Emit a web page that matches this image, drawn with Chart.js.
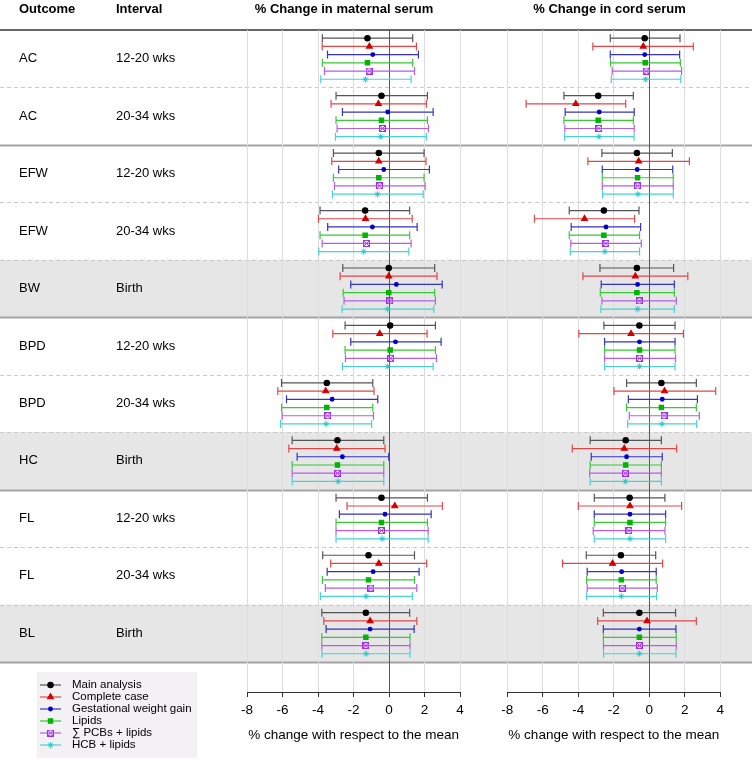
<!DOCTYPE html>
<html>
<head>
<meta charset="utf-8">
<script src="https://cdn.jsdelivr.net/npm/chart.js@4.4.1/dist/chart.umd.min.js"></script>
<style>
  html, body { margin: 0; padding: 0; background: #fff; }
  #wrap { position: relative; width: 752px; height: 761px; overflow: hidden; }
  #wrap canvas { position: absolute; top: 0; }
</style>
</head>
<body>
<div id="wrap">
  <canvas id="maternalChart" width="500" height="761" style="left:0"></canvas>
  <canvas id="cordChart" width="260" height="761" style="left:492px"></canvas>
</div>
<script>
const outcomes = ['AC', 'AC', 'EFW', 'EFW', 'BW', 'BPD', 'BPD', 'HC', 'FL', 'FL', 'BL'];
const intervals = ['12-20 wks', '20-34 wks', '12-20 wks', '20-34 wks', 'Birth', '12-20 wks', '20-34 wks', 'Birth', '12-20 wks', '20-34 wks', 'Birth'];
const shadedRows = [4, 7, 10];
const solidBreaks = [2, 5, 8, 11];
const xTicks = [-8, -6, -4, -2, 0, 2, 4];
const seriesNames = ['Main analysis', 'Complete case', 'Gestational weight gain', 'Lipids', '\u2211 PCBs + lipids', 'HCB + lipids'];

// [lower, estimate, upper] for each row, maternal serum
const maternalMain = [[-3.76, -1.22, 1.33], [-2.99, -0.43, 2.16], [-3.14, -0.58, 1.97], [-3.89, -1.35, 1.16], [-2.61, -0.02, 2.57], [-2.48, 0.06, 2.61], [-6.06, -3.51, -0.92], [-5.46, -2.91, -0.30], [-2.99, -0.43, 2.16], [-3.74, -1.16, 1.43], [-3.79, -1.31, 1.16]];
const maternalComplete = [[-3.77, -1.11, 1.54], [-3.27, -0.60, 2.10], [-3.23, -0.58, 2.08], [-3.98, -1.33, 1.30], [-2.76, -0.02, 2.70], [-3.17, -0.53, 2.14], [-6.27, -3.57, -0.85], [-5.65, -2.95, -0.23], [-2.37, 0.32, 3.00], [-3.29, -0.58, 2.12], [-3.68, -1.07, 1.56]];
const maternalGwg = [[-3.47, -0.92, 1.65], [-2.63, -0.08, 2.48], [-2.84, -0.30, 2.27], [-3.46, -0.94, 1.58], [-2.16, 0.41, 2.99], [-2.16, 0.36, 2.93], [-5.78, -3.21, -0.64], [-5.18, -2.63, -0.02], [-2.80, -0.23, 2.37], [-3.49, -0.90, 1.69], [-3.55, -1.07, 1.41]];
const maternalLipids = [[-3.76, -1.22, 1.33], [-2.99, -0.43, 2.16], [-3.14, -0.58, 1.97], [-3.89, -1.35, 1.16], [-2.59, -0.02, 2.57], [-2.48, 0.06, 2.61], [-6.06, -3.51, -0.92], [-5.46, -2.91, -0.30], [-2.99, -0.43, 2.16], [-3.76, -1.16, 1.43], [-3.79, -1.31, 1.18]];
const maternalPcbs = [[-3.64, -1.13, 1.43], [-2.93, -0.38, 2.22], [-3.08, -0.54, 2.03], [-3.77, -1.28, 1.24], [-2.54, 0.04, 2.61], [-2.46, 0.09, 2.67], [-6.03, -3.46, -0.88], [-5.46, -2.91, -0.30], [-2.99, -0.43, 2.20], [-3.59, -1.03, 1.56], [-3.79, -1.31, 1.18]];
const maternalHcb = [[-3.85, -1.33, 1.24], [-3.02, -0.47, 2.10], [-3.19, -0.66, 1.92], [-3.96, -1.43, 1.11], [-2.65, -0.08, 2.52], [-2.63, -0.08, 2.48], [-6.12, -3.55, -0.98], [-5.46, -2.87, -0.30], [-2.99, -0.39, 2.20], [-3.87, -1.30, 1.31], [-3.78, -1.30, 1.18]];

// [lower, estimate, upper] for each row, cord serum
const cordMain = [[-2.20, -0.26, 1.73], [-4.81, -2.88, -0.90], [-2.67, -0.70, 1.30], [-4.51, -2.56, -0.58], [-2.78, -0.70, 1.37], [-2.56, -0.56, 1.45], [-1.28, 0.68, 2.65], [-3.33, -1.33, 0.68], [-3.10, -1.11, 0.88], [-3.55, -1.60, 0.36], [-2.59, -0.56, 1.48]];
const cordComplete = [[-3.18, -0.34, 2.48], [-6.94, -4.14, -1.33], [-3.46, -0.60, 2.26], [-6.47, -3.65, -0.83], [-3.74, -0.79, 2.17], [-3.97, -1.03, 1.92], [-1.99, 0.86, 3.74], [-4.34, -1.41, 1.54], [-4.00, -1.09, 1.82], [-4.89, -2.07, 0.75], [-2.91, -0.13, 2.65]];
const cordGwg = [[-2.20, -0.26, 1.71], [-4.74, -2.82, -0.85], [-2.65, -0.68, 1.32], [-4.40, -2.44, -0.49], [-2.71, -0.66, 1.41], [-2.52, -0.55, 1.45], [-1.18, 0.73, 2.71], [-3.27, -1.28, 0.73], [-3.10, -1.09, 0.92], [-3.50, -1.56, 0.39], [-2.59, -0.56, 1.50]];
const cordLipids = [[-2.18, -0.23, 1.75], [-4.81, -2.88, -0.90], [-2.65, -0.66, 1.35], [-4.51, -2.56, -0.55], [-2.76, -0.70, 1.41], [-2.52, -0.55, 1.45], [-1.28, 0.68, 2.65], [-3.33, -1.33, 0.68], [-3.10, -1.09, 0.92], [-3.53, -1.58, 0.39], [-2.59, -0.56, 1.52]];
const cordPcbs = [[-2.09, -0.17, 1.82], [-4.76, -2.84, -0.85], [-2.65, -0.66, 1.35], [-4.42, -2.44, -0.45], [-2.67, -0.56, 1.52], [-2.52, -0.55, 1.48], [-1.13, 0.83, 2.82], [-3.36, -1.35, 0.68], [-3.16, -1.15, 0.88], [-3.50, -1.52, 0.45], [-2.58, -0.55, 1.52]];
const cordHcb = [[-2.14, -0.21, 1.77], [-4.77, -2.84, -0.86], [-2.63, -0.64, 1.35], [-4.45, -2.50, -0.55], [-2.73, -0.66, 1.41], [-2.52, -0.55, 1.45], [-1.22, 0.71, 2.67], [-3.33, -1.35, 0.68], [-3.10, -1.09, 0.92], [-3.53, -1.58, 0.41], [-2.58, -0.56, 1.50]];

const FONT = '"Liberation Sans", Arial, Helvetica, sans-serif';
Chart.defaults.font.family = FONT;
Chart.defaults.color = '#000';

// square with a cross for the PCB series
function boxCross(color, size) {
  const c = document.createElement('canvas');
  c.width = size; c.height = size;
  const g = c.getContext('2d');
  g.strokeStyle = color; g.lineWidth = 1;
  g.strokeRect(0.5, 0.5, size - 1, size - 1);
  g.beginPath();
  g.moveTo(0.5, 0.5); g.lineTo(size - 0.5, size - 0.5);
  g.moveTo(size - 0.5, 0.5); g.lineTo(0.5, size - 0.5);
  g.stroke();
  return c;
}

// asterisk (+ and x) for the HCB series
function asterisk(color, size) {
  const c = document.createElement('canvas');
  c.width = size; c.height = size;
  const g = c.getContext('2d');
  const m = size / 2, d = m - 0.5, e = d * 0.75;
  g.strokeStyle = color; g.lineWidth = 1;
  g.beginPath();
  g.moveTo(m, m - d); g.lineTo(m, m + d);
  g.moveTo(m - d, m); g.lineTo(m + d, m);
  g.moveTo(m - e, m - e); g.lineTo(m + e, m + e);
  g.moveTo(m + e, m - e); g.lineTo(m - e, m + e);
  g.stroke();
  return c;
}

const looks = [
  { bar: '#555555', dot: '#000000', style: 'circle', r: 2.7 },
  { bar: '#e04848', dot: '#d40000', style: 'triangle', r: 3.4 },
  { bar: '#3434c0', dot: '#0000cc', style: 'circle', r: 1.9 },
  { bar: '#38c838', dot: '#00b400', style: 'rect', r: 3.1 },
  { bar: '#b45ee6', dot: '#a030e8', style: boxCross('#a030e8', 7), r: 3 },
  { bar: '#48d2d2', dot: '#30c8c8', style: asterisk('#30c8c8', 7), r: 3 },
];

function buildDatasets(series) {
  const sets = [];
  series.forEach((rows, s) => {
    const lk = looks[s];
    const bars = [];
    const pts = [];
    rows.forEach(([lo, est, hi], i) => {
      const yy = i + (s + 1) / 7;
      bars.push({ x: lo, y: yy }, { x: hi, y: yy }, { x: null, y: null });
      pts.push({ x: est, y: yy });
    });
    sets.push({
      label: seriesNames[s] + ' CI', data: bars, showLine: true, spanGaps: false, order: 2,
      borderColor: lk.bar, borderWidth: 1.2,
      pointStyle: 'line', rotation: 90, pointRadius: 4, pointHoverRadius: 4,
      pointBorderColor: lk.bar, pointBorderWidth: 1.2,
    });
    sets.push({
      label: seriesNames[s], data: pts, showLine: false, order: 0,
      pointStyle: lk.style, pointRadius: lk.r, pointHoverRadius: lk.r,
      pointBackgroundColor: lk.dot, pointBorderColor: lk.dot, pointBorderWidth: 1.1,
    });
  });
  return sets;
}

function rowLines(chart, startX) {
  const { ctx, width, scales: { y } } = chart;
  ctx.save();
  shadedRows.forEach(i => {
    const t = y.getPixelForValue(i), b = y.getPixelForValue(i + 1);
    ctx.fillStyle = '#e6e6e6';
    ctx.fillRect(startX, t, width - startX, b - t);
  });
  for (let i = 1; i <= outcomes.length; i++) {
    const py = Math.round(y.getPixelForValue(i)) + 0.5;
    ctx.beginPath();
    if (solidBreaks.includes(i)) {
      ctx.setLineDash([]); ctx.strokeStyle = '#a3a3a3'; ctx.lineWidth = 1.8;
    } else {
      ctx.setLineDash([4, 3]); ctx.strokeStyle = '#cacaca'; ctx.lineWidth = 1;
    }
    ctx.moveTo(startX, py); ctx.lineTo(width, py); ctx.stroke();
  }
  ctx.setLineDash([]);
  const top = y.getPixelForValue(0);
  ctx.strokeStyle = '#333'; ctx.lineWidth = 1.5;
  ctx.beginPath(); ctx.moveTo(startX, top); ctx.lineTo(width, top); ctx.stroke();
  ctx.restore();
}

function axisLine(chart) {
  const { ctx, chartArea, scales: { x } } = chart;
  ctx.save();
  ctx.strokeStyle = '#333'; ctx.lineWidth = 1;
  const py = Math.round(chartArea.bottom) + 0.5;
  ctx.beginPath();
  ctx.moveTo(x.getPixelForValue(xTicks[0]), py);
  ctx.lineTo(x.getPixelForValue(xTicks[xTicks.length - 1]), py);
  ctx.stroke();
  ctx.restore();
}

function panelOptions(padLeft, padRight, title, titleX, startX) {
  return {
    responsive: false, animation: false, events: [],
    layout: { padding: { left: padLeft, right: padRight, top: 30, bottom: 0 } },
    plugins: { legend: { display: false }, tooltip: { enabled: false }, panelText: { title, titleX, startX } },
    scales: {
      x: {
        type: 'linear', min: -8.4, max: 4.4,
        afterBuildTicks: s => { s.ticks = xTicks.map(v => ({ value: v })); },
        afterFit: s => { s.height = 69; },
        border: { display: false },
        grid: {
          color: c => (c.tick && c.tick.value === 0 ? '#5a5a5a' : '#dddddd'),
          lineWidth: 1, drawTicks: true, tickLength: 5, tickColor: '#333',
        },
        ticks: { color: '#000', font: { size: 13.5 }, padding: 5, maxRotation: 0, autoSkip: false },
        title: { display: true, text: '% change with respect to the mean', color: '#000', font: { size: 13.5 }, padding: { top: 4, bottom: 18 } },
      },
      y: { type: 'linear', min: 0, max: 11.523, reverse: true, display: false },
    },
  };
}

const panelText = {
  id: 'panelText',
  beforeDraw(chart, args, opts) { rowLines(chart, opts.startX); },
  afterDraw(chart, args, opts) {
    axisLine(chart);
    const { ctx } = chart;
    ctx.save();
    ctx.fillStyle = '#000';
    ctx.textBaseline = 'middle';
    ctx.textAlign = 'center';
    ctx.font = 'bold 13px ' + FONT;
    ctx.fillText(opts.title, opts.titleX, 9);
    ctx.restore();
  },
};

const tableText = {
  id: 'tableText',
  afterDraw(chart) {
    const { ctx, scales: { y } } = chart;
    ctx.save();
    ctx.fillStyle = '#000';
    ctx.textBaseline = 'middle';
    ctx.textAlign = 'left';
    ctx.font = 'bold 13px ' + FONT;
    ctx.fillText('Outcome', 19, 9);
    ctx.fillText('Interval', 116, 9);
    ctx.font = '13px ' + FONT;
    outcomes.forEach((o, i) => {
      const py = y.getPixelForValue(i + 0.5);
      ctx.fillText(o, 19, py);
      ctx.fillText(intervals[i], 116, py);
    });

    // legend
    ctx.fillStyle = '#f4f1f4';
    ctx.fillRect(37, 672, 160, 86);
    ctx.font = '11.5px ' + FONT;
    seriesNames.forEach((name, s) => {
      const lk = looks[s];
      const py = 685 + s * 12;
      ctx.strokeStyle = lk.bar; ctx.lineWidth = 1.2;
      ctx.beginPath(); ctx.moveTo(40, py); ctx.lineTo(61, py); ctx.stroke();
      ctx.fillStyle = lk.dot; ctx.strokeStyle = lk.dot; ctx.lineWidth = 1.1;
      Chart.helpers.drawPoint(ctx, { pointStyle: lk.style, radius: lk.r, rotation: 0, borderWidth: 1.1 }, 50.5, py);
      ctx.fillStyle = '#000';
      ctx.fillText(name, 72, py);
    });
    ctx.restore();
  },
};

new Chart(document.getElementById('maternalChart'), {
  type: 'scatter',
  data: { datasets: buildDatasets([maternalMain, maternalComplete, maternalGwg, maternalLipids, maternalPcbs, maternalHcb]) },
  options: panelOptions(240, 32.8, '% Change in maternal serum', 344, 0),
  plugins: [panelText, tableText],
});

new Chart(document.getElementById('cordChart'), {
  type: 'scatter',
  data: { datasets: buildDatasets([cordMain, cordComplete, cordGwg, cordLipids, cordPcbs, cordHcb]) },
  options: panelOptions(8.2, 24.6, '% Change in cord serum', 117.5, 8),
  plugins: [panelText],
});
</script>
</body>
</html>
